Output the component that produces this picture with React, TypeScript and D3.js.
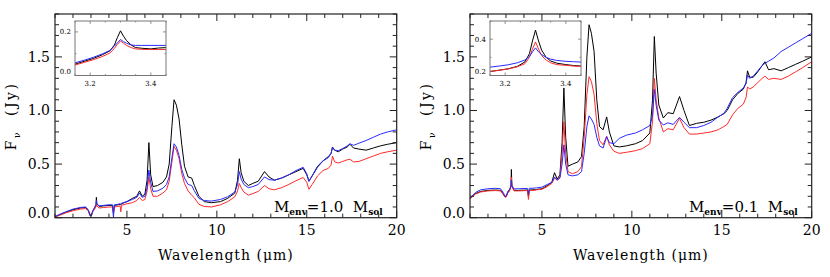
import React from "react";
import * as d3 from "d3";

// wavelength grid (micron) shared by the main curves of both panels
const waveGrid = [1.0, 1.3, 1.6, 2.0, 2.4, 2.7, 2.85, 2.95, 3.02, 3.1, 3.2, 3.28, 3.3, 3.33, 3.45, 3.7, 4.0, 4.2, 4.25, 4.3, 4.5, 4.62, 4.66, 4.7, 5.0, 5.3, 5.55, 5.7, 5.85, 6.0, 6.12, 6.22, 6.32, 6.45, 6.7, 7.0, 7.2, 7.35, 7.5, 7.62, 7.75, 7.9, 8.05, 8.2, 8.4, 8.6, 8.75, 9.0, 9.3, 9.7, 10.2, 10.6, 11.0, 11.15, 11.25, 11.35, 11.5, 11.75, 12.0, 12.3, 12.65, 12.9, 13.2, 13.6, 14.0, 14.4, 14.8, 15.0, 15.12, 15.3, 15.6, 15.9, 16.2, 16.35, 16.43, 16.55, 16.75, 17.0, 17.25, 17.4, 17.6, 17.9, 18.3, 18.7, 19.1, 19.5, 20.0];

// M_env = 1.0 M_sol
const heavyBlack = [0.01, 0.03, 0.05, 0.075, 0.09, 0.095, 0.07, 0.02, 0.02, 0.06, 0.09, 0.12, 0.19, 0.13, 0.105, 0.11, 0.115, 0.115, 0.04, 0.115, 0.12, 0.125, 0.12, 0.13, 0.15, 0.18, 0.2, 0.25, 0.2, 0.22, 0.35, 0.7, 0.4, 0.29, 0.3, 0.33, 0.38, 0.5, 0.85, 1.1, 1.05, 0.92, 0.68, 0.48, 0.38, 0.37, 0.3, 0.2, 0.15, 0.14, 0.15, 0.18, 0.23, 0.35, 0.55, 0.42, 0.34, 0.3, 0.32, 0.34, 0.43, 0.38, 0.35, 0.37, 0.4, 0.43, 0.46, 0.4, 0.34, 0.39, 0.48, 0.53, 0.57, 0.6, 0.66, 0.63, 0.615, 0.64, 0.66, 0.685, 0.65, 0.64, 0.63, 0.65, 0.67, 0.685, 0.7];
const heavyBlue = [0.01, 0.035, 0.055, 0.08, 0.095, 0.1, 0.075, 0.02, 0.02, 0.065, 0.095, 0.12, 0.16, 0.13, 0.11, 0.115, 0.12, 0.12, 0.0, 0.12, 0.125, 0.13, 0.125, 0.135, 0.15, 0.17, 0.19, 0.23, 0.19, 0.2, 0.28, 0.445, 0.33, 0.245, 0.25, 0.275, 0.31, 0.38, 0.56, 0.69, 0.66, 0.58, 0.45, 0.37, 0.31, 0.3, 0.25, 0.18, 0.16, 0.155, 0.17, 0.195, 0.24, 0.31, 0.43, 0.36, 0.31, 0.28, 0.29, 0.31, 0.38, 0.355, 0.35, 0.37, 0.4, 0.44, 0.47, 0.41, 0.34, 0.39, 0.47, 0.53, 0.56, 0.6, 0.655, 0.63, 0.625, 0.645, 0.67, 0.69, 0.675, 0.695, 0.72, 0.75, 0.78, 0.8, 0.82];
const heavyRed = [0.005, 0.025, 0.045, 0.065, 0.08, 0.085, 0.065, 0.018, 0.018, 0.055, 0.08, 0.1, 0.13, 0.11, 0.09, 0.095, 0.1, 0.1, 0.05, 0.1, 0.105, 0.11, 0.055, 0.115, 0.13, 0.14, 0.16, 0.19, 0.16, 0.17, 0.25, 0.38, 0.27, 0.2, 0.2, 0.23, 0.26, 0.34, 0.52, 0.665, 0.63, 0.55, 0.41, 0.32, 0.25, 0.21, 0.185, 0.125, 0.105, 0.1, 0.12, 0.15, 0.195, 0.25, 0.32, 0.28, 0.24, 0.21, 0.225, 0.245, 0.3, 0.27, 0.26, 0.28, 0.31, 0.345, 0.375, 0.33, 0.265, 0.31, 0.39, 0.44, 0.46, 0.49, 0.575, 0.52, 0.51, 0.525, 0.54, 0.545, 0.52, 0.525, 0.55, 0.575, 0.6, 0.615, 0.63];

// M_env = 0.1 M_sol
const lightBlack = [0.18, 0.225, 0.245, 0.255, 0.258, 0.255, 0.22, 0.195, 0.2, 0.235, 0.255, 0.3, 0.45, 0.3, 0.255, 0.255, 0.257, 0.258, 0.2, 0.258, 0.26, 0.262, 0.26, 0.263, 0.27, 0.3, 0.33, 0.42, 0.36, 0.4, 0.7, 1.21, 0.75, 0.48, 0.5, 0.52, 0.57, 0.85, 1.5, 1.8, 1.72, 1.55, 1.1, 0.85, 0.82, 0.94, 0.8, 0.67, 0.66, 0.67, 0.69, 0.72, 0.79, 1.1, 1.69, 1.35, 1.05, 0.93, 0.98, 0.97, 1.13, 1.0, 0.86, 0.88, 0.89, 0.91, 0.94, 0.96, 0.97, 1.0, 1.1, 1.16, 1.2, 1.26, 1.37, 1.31, 1.31, 1.36, 1.42, 1.455, 1.38, 1.39, 1.37, 1.4, 1.43, 1.46, 1.5];
const lightBlue = [0.18, 0.235, 0.26, 0.27, 0.274, 0.27, 0.235, 0.2, 0.205, 0.245, 0.265, 0.29, 0.35, 0.3, 0.268, 0.27, 0.272, 0.273, 0.225, 0.274, 0.275, 0.277, 0.277, 0.278, 0.285, 0.31, 0.33, 0.38, 0.35, 0.37, 0.5, 0.68, 0.5, 0.4, 0.39, 0.4, 0.43, 0.6, 0.85, 0.95, 0.92, 0.87, 0.75, 0.67, 0.65, 0.755, 0.7, 0.69, 0.74, 0.77, 0.79, 0.82, 0.86, 0.95, 1.197, 1.05, 0.91, 0.865, 0.885, 0.87, 0.936, 0.89, 0.84, 0.84, 0.86, 0.89, 0.94, 0.96, 0.975, 1.02, 1.12, 1.17, 1.21, 1.25, 1.33, 1.3, 1.32, 1.37, 1.42, 1.44, 1.46, 1.49, 1.55, 1.59, 1.63, 1.67, 1.72];
const lightRed = [0.175, 0.22, 0.24, 0.25, 0.253, 0.25, 0.215, 0.19, 0.195, 0.23, 0.25, 0.29, 0.38, 0.29, 0.25, 0.25, 0.252, 0.253, 0.17, 0.253, 0.255, 0.258, 0.256, 0.26, 0.265, 0.29, 0.32, 0.37, 0.35, 0.38, 0.6, 0.896, 0.6, 0.43, 0.41, 0.43, 0.476, 0.75, 1.15, 1.315, 1.27, 1.15, 0.88, 0.72, 0.68, 0.76, 0.68, 0.62, 0.6, 0.61, 0.625, 0.645, 0.69, 0.9, 1.3, 1.1, 0.93, 0.8, 0.83, 0.82, 0.927, 0.84, 0.78, 0.78, 0.79, 0.8, 0.82, 0.84, 0.85, 0.87, 0.96, 1.02, 1.06, 1.12, 1.22, 1.2, 1.22, 1.26, 1.3, 1.32, 1.29, 1.3, 1.29, 1.32, 1.36, 1.4, 1.455];

// 3.3 micron zoom insets
const insetWave = [3.15, 3.18, 3.21, 3.24, 3.265, 3.28, 3.29, 3.3, 3.31, 3.32, 3.335, 3.35, 3.37, 3.4, 3.425, 3.45];
const heavyInsetBlack = [0.052, 0.065, 0.078, 0.095, 0.113, 0.14, 0.175, 0.205, 0.18, 0.16, 0.14, 0.128, 0.125, 0.122, 0.126, 0.128];
const heavyInsetBlue = [0.058, 0.07, 0.083, 0.099, 0.115, 0.135, 0.15, 0.165, 0.155, 0.148, 0.14, 0.138, 0.138, 0.138, 0.138, 0.138];
const heavyInsetRed = [0.048, 0.06, 0.072, 0.087, 0.103, 0.125, 0.143, 0.158, 0.148, 0.138, 0.128, 0.122, 0.12, 0.119, 0.119, 0.119];
const lightInsetBlack = [0.222, 0.229, 0.237, 0.25, 0.275, 0.32, 0.39, 0.45, 0.39, 0.34, 0.3, 0.28, 0.268, 0.26, 0.255, 0.252];
const lightInsetBlue = [0.246, 0.252, 0.259, 0.27, 0.285, 0.305, 0.33, 0.352, 0.33, 0.315, 0.3, 0.29, 0.283, 0.278, 0.276, 0.274];
const lightInsetRed = [0.222, 0.229, 0.236, 0.248, 0.265, 0.3, 0.345, 0.385, 0.345, 0.31, 0.285, 0.27, 0.26, 0.256, 0.252, 0.25];

const xTicks = [5, 10, 15, 20];
const yTicks = [0.0, 0.5, 1.0, 1.5];
const insetXTicks = [3.2, 3.4];
const heavyInsetYTicks = [0.0, 0.2];
const lightInsetYTicks = [0.2, 0.4];

const lineColors = ["#000000", "#ff2a2a", "#2a2aff"];
const font = "DejaVu Serif";

const W = 830, H = 277;
const frame = { left: 55, right: 396.7, top: 14, bottom: 217.7 };
const insetBox = { left: 75, right: 166, top: 21, bottom: 75.5 };

const range = (a, b, step) => d3.range(a, b + step / 2, step).map(v => +v.toFixed(4));

const txt = (size, extra = {}) => ({ fontFamily: font, fontSize: size, ...extra });

const Panel = ({ dx, label, series, insetSeries, insetY, insetYTicks, idx }) => {
  const x = d3.scaleLinear().domain([1, 20]).range([frame.left, frame.right]);
  const y = d3.scaleLinear().domain([0, 1.9]).range([frame.bottom, frame.top]);
  const ix = d3.scaleLinear().domain([3.15, 3.45]).range([insetBox.left, insetBox.right]);
  const iy = d3.scaleLinear().domain(insetY).range([insetBox.bottom, insetBox.top]);

  const line = d3.line().x(d => x(d[0])).y(d => y(d[1]));
  const iline = d3.line().x(d => ix(d[0])).y(d => iy(d[1]));

  const minorX = range(1, 20, 1);
  const minorY = range(0, 1.9, 0.1);
  const insetMinorX = range(3.15, 3.45, 0.05);
  const insetMinorY = range(insetY[0], insetY[1], 0.1);

  const clipMain = `clip-main-${idx}`;
  const clipInset = `clip-inset-${idx}`;
  const stroke = "#222";

  return (
    <g transform={`translate(${dx},0)`}>
      <defs>
        <clipPath id={clipMain}>
          <rect x={frame.left} y={frame.top} width={frame.right - frame.left} height={frame.bottom - frame.top} />
        </clipPath>
        <clipPath id={clipInset}>
          <rect x={insetBox.left} y={insetBox.top} width={insetBox.right - insetBox.left} height={insetBox.bottom - insetBox.top} />
        </clipPath>
      </defs>

      <g clipPath={`url(#${clipMain})`}>
        {series.map((vals, i) => (
          <path key={i} d={line(waveGrid.map((w, j) => [w, vals[j]]))} fill="none" stroke={lineColors[i]} strokeWidth={1} strokeLinejoin="round" />
        ))}
      </g>

      {/* main frame and ticks */}
      <rect x={frame.left} y={frame.top} width={frame.right - frame.left} height={frame.bottom - frame.top} fill="none" stroke={stroke} strokeWidth={1.2} />
      {minorX.map(t => {
        const len = xTicks.includes(t) ? 7 : 4;
        return (
          <g key={"x" + t}>
            <line x1={x(t)} x2={x(t)} y1={frame.bottom} y2={frame.bottom - len} stroke={stroke} />
            <line x1={x(t)} x2={x(t)} y1={frame.top} y2={frame.top + len} stroke={stroke} />
          </g>
        );
      })}
      {minorY.map(t => {
        const len = Math.abs(t * 2 - Math.round(t * 2)) < 1e-6 ? 7 : 4;
        return (
          <g key={"y" + t}>
            <line x1={frame.left} x2={frame.left + len} y1={y(t)} y2={y(t)} stroke={stroke} />
            <line x1={frame.right} x2={frame.right - len} y1={y(t)} y2={y(t)} stroke={stroke} />
          </g>
        );
      })}
      {xTicks.map(t => (
        <text key={"xl" + t} x={x(t)} y={235} textAnchor="middle" style={txt(14)}>{t}</text>
      ))}
      {yTicks.map(t => (
        <text key={"yl" + t} x={frame.left - 5} y={Math.min(y(t), frame.bottom - 5)} dy="0.35em" textAnchor="end" style={txt(14)}>{t.toFixed(1)}</text>
      ))}
      <text x={(frame.left + frame.right) / 2} y={260} textAnchor="middle" style={txt(14, { letterSpacing: 1 })}>
        Wavelength (μm)
      </text>
      <text transform={`translate(16,${(frame.top + frame.bottom) / 2}) rotate(-90)`} textAnchor="middle" style={txt(14, { letterSpacing: 2.5, whiteSpace: "pre" })}>
        F<tspan fontSize={9} dy={4}>ν</tspan><tspan dy={-4}>{"  (Jy)"}</tspan>
      </text>
      <text x={frame.right - 14} y={212} textAnchor="end" style={txt(15, { whiteSpace: "pre" })}>
        M<tspan fontSize={9} fontWeight="bold" dy={3}>env</tspan><tspan dy={-3}>{"=" + label + "  M"}</tspan><tspan fontSize={9} fontWeight="bold" dy={3}>sol</tspan>
      </text>

      {/* inset */}
      <rect x={insetBox.left} y={insetBox.top} width={insetBox.right - insetBox.left} height={insetBox.bottom - insetBox.top} fill="white" />
      <g clipPath={`url(#${clipInset})`}>
        {insetSeries.map((vals, i) => (
          <path key={i} d={iline(insetWave.map((w, j) => [w, vals[j]]))} fill="none" stroke={lineColors[i]} strokeWidth={1} strokeLinejoin="round" />
        ))}
      </g>
      <rect x={insetBox.left} y={insetBox.top} width={insetBox.right - insetBox.left} height={insetBox.bottom - insetBox.top} fill="none" stroke="#777" strokeWidth={1} />
      {insetMinorX.map(t => {
        const len = insetXTicks.some(v => Math.abs(v - t) < 1e-6) ? 3 : 1.5;
        return (
          <g key={"ix" + t}>
            <line x1={ix(t)} x2={ix(t)} y1={insetBox.bottom} y2={insetBox.bottom - len} stroke="#777" strokeWidth={0.8} />
            <line x1={ix(t)} x2={ix(t)} y1={insetBox.top} y2={insetBox.top + len} stroke="#777" strokeWidth={0.8} />
          </g>
        );
      })}
      {insetMinorY.map(t => {
        const len = insetYTicks.some(v => Math.abs(v - t) < 1e-6) ? 3 : 1.5;
        return (
          <g key={"iy" + t}>
            <line x1={insetBox.left} x2={insetBox.left + len} y1={iy(t)} y2={iy(t)} stroke="#777" strokeWidth={0.8} />
            <line x1={insetBox.right} x2={insetBox.right - len} y1={iy(t)} y2={iy(t)} stroke="#777" strokeWidth={0.8} />
          </g>
        );
      })}
      {insetXTicks.map(t => (
        <text key={"ixl" + t} x={ix(t)} y={86} textAnchor="middle" style={txt(7)}>{t.toFixed(1)}</text>
      ))}
      {insetYTicks.map(t => (
        <text key={"iyl" + t} x={insetBox.left - 4} y={Math.min(iy(t), insetBox.bottom - 4)} dy="0.35em" textAnchor="end" style={txt(7)}>{t.toFixed(1)}</text>
      ))}
    </g>
  );
};

export default function App() {
  return (
    <svg width={W} height={H} style={{ position: "absolute", left: 0, top: 0, background: "white" }}>
      <Panel
        idx={0}
        dx={0}
        label="1.0"
        series={[heavyBlack, heavyRed, heavyBlue]}
        insetSeries={[heavyInsetBlack, heavyInsetRed, heavyInsetBlue]}
        insetY={[0, 0.25]}
        insetYTicks={heavyInsetYTicks}
      />
      <Panel
        idx={1}
        dx={415}
        label="0.1"
        series={[lightBlack, lightRed, lightBlue]}
        insetSeries={[lightInsetBlack, lightInsetRed, lightInsetBlue]}
        insetY={[0.2, 0.5]}
        insetYTicks={lightInsetYTicks}
      />
    </svg>
  );
}
